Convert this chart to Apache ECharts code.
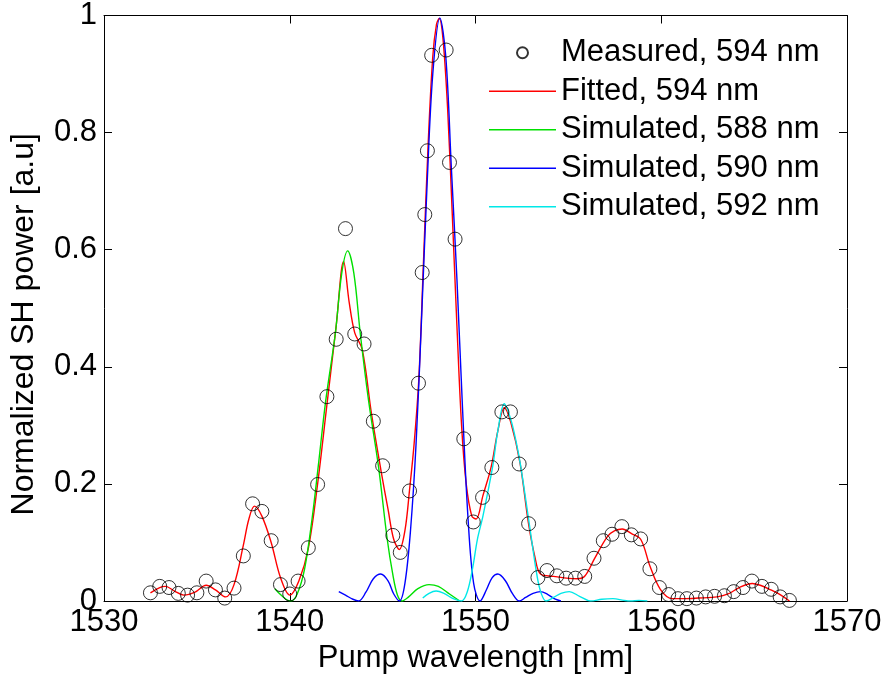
<!DOCTYPE html>
<html>
<head>
<meta charset="utf-8">
<script src="https://cdn.jsdelivr.net/npm/echarts@6/dist/echarts.min.js"></script>
<style>
html,body{margin:0;padding:0;background:#fff;}
#chart{width:886px;height:683px;}
</style>
</head>
<body>
<div id="chart"></div>
<script>
// Measured, 594 nm
const measuredX = [1532.5,1533.0,1533.5,1534.0,1534.5,1535.0,1535.5,1536.0,1536.5,1537.0,1537.5,1538.0,1538.5,1539.0,1539.5,1540.0,1540.45,1541.0,1541.5,1542.0,1542.5,1543.0,1543.5,1544.0,1544.5,1545.0,1545.55,1545.95,1546.45,1546.93,1547.13,1547.27,1547.41,1547.64,1548.42,1548.6,1548.9,1549.37,1549.88,1550.38,1550.88,1551.42,1551.88,1552.35,1552.86,1553.36,1553.85,1554.38,1554.88,1555.38,1555.88,1556.38,1556.88,1557.35,1557.88,1558.39,1558.89,1559.39,1559.9,1560.4,1560.9,1561.38,1561.89,1562.39,1562.87,1563.4,1563.9,1564.4,1564.88,1565.42,1565.92,1566.4,1566.9];
const measuredY = [0.014,0.025,0.023,0.013,0.010,0.014,0.034,0.019,0.005,0.022,0.077,0.166,0.153,0.103,0.028,0.012,0.034,0.091,0.199,0.349,0.447,0.636,0.456,0.439,0.307,0.231,0.112,0.083,0.188,0.372,0.561,0.660,0.769,0.932,0.941,0.749,0.618,0.277,0.135,0.177,0.228,0.323,0.323,0.234,0.132,0.040,0.052,0.043,0.039,0.039,0.042,0.073,0.103,0.114,0.127,0.113,0.106,0.055,0.023,0.011,0.004,0.004,0.005,0.007,0.008,0.009,0.016,0.023,0.034,0.025,0.020,0.007,0.001];

// Fitted, 594 nm
const fittedX = [1532.5,1533.0,1533.3,1533.8,1534.3,1534.9,1535.5,1536.0,1536.55,1537.0,1537.5,1537.8,1538.1,1538.5,1539.0,1539.5,1540.0,1540.5,1541.0,1541.5,1542.0,1542.5,1542.9,1543.2,1543.5,1543.9,1544.4,1544.9,1545.3,1545.6,1545.9,1546.2,1546.45,1546.7,1546.95,1547.2,1547.45,1547.7,1547.9,1548.05,1548.25,1548.5,1548.75,1549.0,1549.25,1549.5,1549.8,1550.03,1550.4,1550.85,1551.2,1551.55,1551.9,1552.4,1552.85,1553.2,1553.5,1554.2,1554.9,1555.5,1555.9,1556.4,1557.1,1557.5,1557.9,1558.4,1558.9,1559.4,1559.95,1560.6,1561.2,1562.0,1563.0,1563.6,1564.2,1564.9,1565.4,1565.9,1566.4,1566.9];
const fittedY = [0.014,0.023,0.025,0.017,0.010,0.015,0.027,0.019,0.007,0.028,0.095,0.140,0.162,0.145,0.100,0.040,0.010,0.035,0.090,0.200,0.335,0.470,0.580,0.510,0.458,0.430,0.320,0.225,0.155,0.105,0.088,0.120,0.190,0.270,0.380,0.580,0.780,0.930,0.985,0.995,0.960,0.840,0.660,0.470,0.300,0.200,0.145,0.140,0.180,0.230,0.290,0.330,0.305,0.235,0.133,0.075,0.046,0.042,0.039,0.038,0.043,0.072,0.110,0.120,0.123,0.115,0.105,0.059,0.020,0.004,0.004,0.005,0.007,0.012,0.023,0.030,0.026,0.019,0.011,0.000];

// Simulated, 588 nm
const sim588X = [1539.2,1539.5,1539.8,1540.05,1540.4,1540.8,1541.2,1541.53,1541.94,1542.45,1542.8,1543.12,1543.45,1543.8,1544.24,1544.78,1545.25,1545.55,1545.8,1546.05,1546.4,1546.9,1547.5,1548.0,1548.6,1549.15];
const sim588Y = [0.021,0.011,0.003,0.000,0.012,0.055,0.140,0.229,0.343,0.456,0.560,0.598,0.560,0.456,0.343,0.229,0.105,0.045,0.010,0.000,0.007,0.021,0.028,0.025,0.012,0.000];

// Simulated, 590 nm
const sim590X = [1542.64,1543.0,1543.4,1543.71,1544.1,1544.5,1544.9,1545.3,1545.6,1545.91,1546.2,1546.5,1546.8,1547.1,1547.4,1547.7,1548.08,1548.4,1548.7,1549.0,1549.3,1549.6,1549.9,1550.25,1550.6,1550.9,1551.2,1551.6,1552.0,1552.35,1552.7,1553.1,1553.5,1553.9,1554.3,1554.6];
const sim590Y = [0.016,0.010,0.003,0.000,0.015,0.038,0.046,0.034,0.012,0.000,0.030,0.120,0.268,0.485,0.716,0.900,0.996,0.930,0.740,0.550,0.330,0.140,0.030,0.000,0.020,0.040,0.046,0.035,0.012,0.000,0.006,0.013,0.016,0.011,0.003,0.000];

// Simulated, 592 nm
const sim592X = [1547.16,1547.5,1547.88,1548.3,1548.8,1549.25,1549.55,1549.85,1550.1,1550.4,1550.92,1551.2,1551.55,1551.9,1552.2,1552.44,1552.94,1553.33,1553.55,1553.8,1554.2,1554.6,1555.05,1555.6,1556.2,1556.8,1557.4,1558.0,1558.35,1558.8,1559.25];
const sim592Y = [0.005,0.013,0.017,0.013,0.004,0.000,0.015,0.057,0.105,0.145,0.229,0.290,0.337,0.310,0.270,0.229,0.122,0.040,0.012,0.000,0.006,0.013,0.016,0.008,0.000,0.003,0.004,0.001,0.000,0.001,0.000];

const xTicks = [1530, 1540, 1550, 1560, 1570];
const yTicks = [0, 0.2, 0.4, 0.6, 0.8, 1];

const seriesNames = ['Measured, 594 nm','Fitted, 594 nm','Simulated, 588 nm','Simulated, 590 nm','Simulated, 592 nm'];

function pairs(xs, ys){ return xs.map((x,i)=>[x, ys[i]]); }

const FONT = '"Liberation Sans", Arial, sans-serif';
const LINE_ICON = 'path://M0,0H100V2H0Z';
const chart = echarts.init(document.getElementById('chart'));

function lineSeries(name, xs, ys, color){
  return {
    name: name, type: 'line', data: pairs(xs, ys),
    xAxisIndex: 0, yAxisIndex: 0,
    showSymbol: false, symbol: 'none', smooth: 0.35,
    lineStyle: {color: color, width: 1.4},
    itemStyle: {color: color},
    animation: false, z: 3
  };
}

chart.setOption({
  animation: false,
  backgroundColor: '#ffffff',
  grid: {left: 102, right: 39, top: 13, bottom: 82, containLabel: false},
  legend: {
    orient: 'vertical', left: 484, top: 32,
    itemWidth: 67, itemHeight: 11, itemGap: 7, symbolKeepAspect: true,
    textStyle: {fontFamily: FONT, fontSize: 31, color: '#000', lineHeight: 31.5},
    data: [
      {name: seriesNames[0], icon: 'circle'},
      {name: seriesNames[1], icon: LINE_ICON},
      {name: seriesNames[2], icon: LINE_ICON},
      {name: seriesNames[3], icon: LINE_ICON},
      {name: seriesNames[4], icon: LINE_ICON}
    ]
  },
  xAxis: [{
    type: 'value', min: 1530, max: 1570, interval: 10, position: 'bottom',
    axisLine: {show: true, onZero: false, lineStyle: {color: '#000', width: 1}},
    axisTick: {show: true, inside: true, length: 8, lineStyle: {color: '#000'}},
    axisLabel: {fontFamily: FONT, fontSize: 31, color: '#000', margin: 6,
      formatter: v => (xTicks.indexOf(v) >= 0 ? String(v) : '')},
    splitLine: {show: false},
    name: 'Pump wavelength [nm]', nameLocation: 'middle', nameGap: 40,
    nameTextStyle: {fontFamily: FONT, fontSize: 31, color: '#000'}
  },{
    type: 'value', min: 1530, max: 1570, interval: 10, position: 'top',
    axisLine: {show: true, onZero: false, lineStyle: {color: '#000', width: 1}},
    axisTick: {show: true, inside: true, length: 8, lineStyle: {color: '#000'}},
    axisLabel: {show: false}, splitLine: {show: false}
  }],
  yAxis: [{
    type: 'value', min: 0, max: 1, interval: 0.2, position: 'left',
    axisLine: {show: true, onZero: false, lineStyle: {color: '#000', width: 1}},
    axisTick: {show: true, inside: true, length: 8, lineStyle: {color: '#000'}},
    axisLabel: {fontFamily: FONT, fontSize: 31, color: '#000', margin: 7,
      formatter: v => { const t = yTicks.find(k => Math.abs(k - v) < 1e-9); return t === undefined ? '' : String(t); }},
    splitLine: {show: false},
    name: 'Normalized SH power [a.u]', nameLocation: 'middle', nameGap: 64,
    nameTextStyle: {fontFamily: FONT, fontSize: 32, color: '#000', padding: [0, 32, 0, 0]}
  },{
    type: 'value', min: 0, max: 1, interval: 0.2, position: 'right',
    axisLine: {show: true, onZero: false, lineStyle: {color: '#000', width: 1}},
    axisTick: {show: true, inside: true, length: 8, lineStyle: {color: '#000'}},
    axisLabel: {show: false}, splitLine: {show: false}
  }],
  series: [
    {
      name: seriesNames[0], type: 'scatter', data: pairs(measuredX, measuredY),
      xAxisIndex: 0, yAxisIndex: 0,
      symbol: 'circle', symbolSize: 14,
      itemStyle: {color: 'rgba(0,0,0,0)', borderColor: '#000', borderWidth: 1},
      z: 4
    },
    lineSeries(seriesNames[1], fittedX, fittedY, '#ff0000'),
    lineSeries(seriesNames[2], sim588X, sim588Y, '#00e000'),
    lineSeries(seriesNames[3], sim590X, sim590Y, '#0000ff'),
    lineSeries(seriesNames[4], sim592X, sim592Y, '#00e8e8')
  ]
});
</script>
</body>
</html>
